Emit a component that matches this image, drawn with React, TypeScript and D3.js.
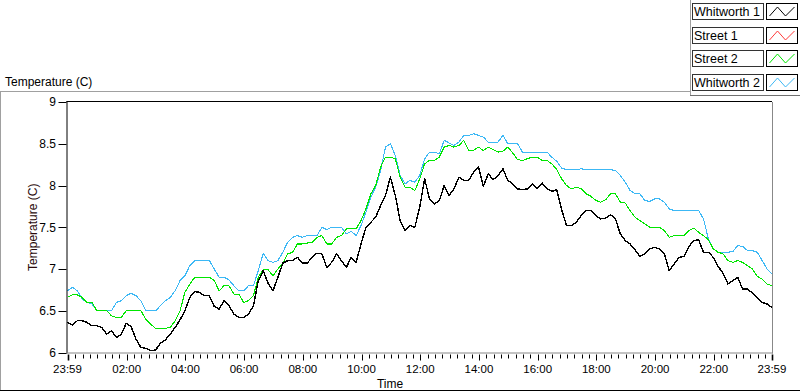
import React from "react";
import * as d3 from "d3";

// ---- data ----
// sample grid: minutes after the start (23:59 of the previous day), every 10 minutes
const sampleMinutes: number[] = d3.range(0, 1441, 10);

const seriesNames = ["Whitworth 1", "Street 1", "Street 2", "Whitworth 2"];
const seriesColors = ["#000000", "#ff3a3a", "#00e600", "#3cb8f5"];

const whitworth1: number[] = [
  6.36, 6.33, 6.38, 6.38, 6.36, 6.32, 6.32, 6.30, 6.22, 6.26, 6.18, 6.22,
  6.35, 6.31, 6.16, 6.06, 6.05, 6.02, 6.03, 6.11, 6.15, 6.22, 6.30, 6.39,
  6.50, 6.66, 6.73, 6.72, 6.68, 6.68, 6.55, 6.52, 6.62, 6.56, 6.46, 6.42,
  6.42, 6.46, 6.56, 6.86, 6.98, 6.83, 6.74, 6.90, 7.07, 7.10, 7.10, 7.14,
  7.07, 7.07, 7.14, 7.19, 7.18, 7.02, 7.08, 7.18, 7.10, 7.02, 7.14, 7.08,
  7.30, 7.50, 7.56, 7.62, 7.76, 7.88, 8.10, 7.88, 7.58, 7.46, 7.52, 7.50,
  7.74, 8.08, 7.84, 7.78, 7.82, 8.00, 7.88, 7.96, 8.10, 8.06, 8.06, 8.16,
  8.22, 7.99, 8.14, 8.07, 8.12, 8.20, 8.06, 8.02, 7.96, 7.95, 7.96, 8.02,
  7.96, 8.03, 7.96, 7.93, 7.95, 7.71, 7.52, 7.52, 7.56, 7.64, 7.70, 7.70,
  7.64, 7.60, 7.61, 7.65, 7.60, 7.42, 7.34, 7.30, 7.23, 7.15, 7.18, 7.24,
  7.26, 7.24, 7.18, 6.98, 7.06, 7.14, 7.15, 7.27, 7.34, 7.35, 7.20, 7.20,
  7.14, 7.03, 6.95, 6.82, 6.86, 6.90, 6.76, 6.76, 6.71, 6.66, 6.60, 6.58,
  6.54,
];

// Street 1 has no visible trace in the reference
const street1: number[] = [];

const street2: number[] = [
  6.66, 6.69, 6.69, 6.66, 6.60, 6.60, 6.50, 6.50, 6.50, 6.44, 6.42, 6.42,
  6.50, 6.50, 6.50, 6.50, 6.40, 6.34, 6.29, 6.29, 6.29, 6.30, 6.38, 6.50,
  6.72, 6.82, 6.90, 6.90, 6.90, 6.90, 6.86, 6.74, 6.80, 6.80, 6.70, 6.70,
  6.60, 6.62, 6.68, 6.90, 6.99, 6.99, 6.92, 7.00, 7.07, 7.18, 7.20, 7.30,
  7.30, 7.31, 7.32, 7.38, 7.40, 7.30, 7.30, 7.38, 7.40, 7.48, 7.49, 7.48,
  7.58, 7.72, 7.90, 8.00, 8.22, 8.34, 8.34, 8.32, 8.10, 7.98, 7.98, 7.94,
  8.08, 8.26, 8.30, 8.30, 8.34, 8.46, 8.48, 8.46, 8.48, 8.54, 8.42, 8.42,
  8.46, 8.42, 8.46, 8.43, 8.40, 8.41, 8.46, 8.39, 8.31, 8.30, 8.32, 8.34,
  8.34, 8.30, 8.30, 8.26, 8.19, 8.08, 8.00, 7.96, 7.98, 7.96, 7.90, 7.87,
  7.82, 7.80, 7.83, 7.90, 7.90, 7.80, 7.79, 7.70, 7.62, 7.58, 7.54, 7.50,
  7.50, 7.50, 7.46, 7.38, 7.40, 7.40, 7.40, 7.46, 7.49, 7.44, 7.40, 7.35,
  7.24, 7.20, 7.18, 7.10, 7.08, 7.10, 7.08, 7.04, 7.00, 6.91, 6.88, 6.82,
  6.80,
];

const whitworth2: number[] = [
  6.74, 6.78, 6.74, 6.64, 6.60, 6.58, 6.50, 6.50, 6.50, 6.50, 6.60, 6.62,
  6.68, 6.71, 6.68, 6.62, 6.50, 6.50, 6.50, 6.56, 6.62, 6.66, 6.74, 6.86,
  6.92, 7.04, 7.10, 7.10, 7.10, 7.10, 7.00, 6.90, 6.90, 6.87, 6.80, 6.74,
  6.74, 6.80, 6.80, 6.98, 7.19, 7.10, 7.08, 7.10, 7.20, 7.32, 7.38, 7.40,
  7.38, 7.40, 7.40, 7.40, 7.50, 7.47, 7.50, 7.50, 7.50, 7.42, 7.45, 7.40,
  7.52, 7.68, 7.86, 7.98, 8.18, 8.46, 8.50, 8.36, 8.12, 8.02, 8.06, 8.04,
  8.12, 8.32, 8.40, 8.40, 8.38, 8.54, 8.51, 8.48, 8.52, 8.60, 8.60, 8.62,
  8.60, 8.58, 8.52, 8.52, 8.52, 8.60, 8.50, 8.50, 8.50, 8.40, 8.40, 8.40,
  8.40, 8.40, 8.40, 8.34, 8.29, 8.21, 8.19, 8.19, 8.19, 8.20, 8.19, 8.19,
  8.19, 8.19, 8.19, 8.19, 8.18, 8.12, 8.04, 7.94, 7.90, 7.90, 7.82, 7.81,
  7.84, 7.84, 7.80, 7.72, 7.70, 7.70, 7.70, 7.70, 7.70, 7.70, 7.60, 7.36,
  7.24, 7.20, 7.20, 7.20, 7.21, 7.28, 7.27, 7.22, 7.22, 7.20, 7.10, 7.00,
  6.94,
];

const yTickValues = [6, 6.5, 7, 7.5, 8, 8.5, 9];
const xTickLabels = [
  "23:59", "02:00", "04:00", "06:00", "08:00", "10:00", "12:00",
  "14:00", "16:00", "18:00", "20:00", "22:00", "23:59",
];

const chartTitle = "Temperature (C)";
const yAxisTitle = "Temperature (C)";
const xAxisTitle = "Time";

// ---- layout ----
const W = 800;
const H = 392;
const plot = { left: 67.5, right: 772, top: 102, bottom: 352.5 };
const FONT = "'Liberation Sans', Arial, sans-serif";

export default function App() {
  const x = d3.scaleLinear().domain([0, 1440]).range([plot.left, plot.right]);
  const y = d3.scaleLinear().domain([6, 9]).range([plot.bottom, plot.top]);

  const line = d3
    .line<number>()
    .x((_, i) => x(sampleMinutes[i]))
    .y((v) => y(v))
    .curve(d3.curveLinear);

  const allSeries = [whitworth1, street1, street2, whitworth2];
  // draw order: blue underneath, then green, red, black on top
  const drawOrder = [3, 2, 1, 0];

  // tick positions: minutes from start (clock time + 1 minute)
  const labelMinute = (lab: string, i: number) => {
    if (i === 0) return 0;
    const [hh, mm] = lab.split(":").map(Number);
    return hh * 60 + mm + 1;
  };
  const majorMinutes = xTickLabels.map(labelMinute);
  const minorMinutes: number[] = [];
  for (let m = 16; m < 1440; m += 15) {
    if (!majorMinutes.includes(m)) minorMinutes.push(m);
  }

  const legendRowsTop = [3, 27, 50, 74];

  return (
    <div style={{ position: "absolute", left: 0, top: 0 }}>
      <svg width={W} height={H} style={{ display: "block", background: "#fff" }}>
        <rect x={0} y={0} width={W} height={H} fill="#ffffff" />

        {/* outer panel */}
        <line x1={0} x2={690} y1={91.5} y2={91.5} stroke="#a0a0a0" />
        <line x1={0.5} x2={0.5} y1={91.5} y2={391} stroke="#a0a0a0" />
        <line x1={0} x2={W} y1={390.5} y2={390.5} stroke="#000" />

        <text x={5} y={86} fontFamily={FONT} fontSize={12} fill="#000">
          {chartTitle}
        </text>

        {/* legend frame */}
        <line x1={690.5} x2={690.5} y1={0} y2={95.5} stroke="#a0a0a0" />
        <line x1={690} x2={W} y1={95.5} y2={95.5} stroke="#707070" />

        {seriesNames.map((name, i) => {
          const top = legendRowsTop[i];
          const bx = 766.5;
          const bw = 31;
          const bh = 16;
          const pts: [number, number][] = [
            [bx + 3, top + 13],
            [bx + 11, top + 4],
            [bx + 19, top + 13],
            [bx + 28, top + 4],
          ];
          return (
            <g key={name}>
              <rect x={692.5} y={top + 0.5} width={71} height={bh} fill="#fff" stroke="#333" />
              <text x={694} y={top + 13} fontFamily={FONT} fontSize={12.5} fill="#000">
                {name}
              </text>
              <rect x={bx} y={top + 0.5} width={bw} height={bh} fill="#fff" stroke="#000" />
              <path d={d3.line()(pts) || ""} fill="none" stroke={seriesColors[i]} strokeWidth={1} />
            </g>
          );
        })}

        {/* plot area */}
        <rect
          x={plot.left}
          y={plot.top}
          width={plot.right - plot.left}
          height={plot.bottom - plot.top}
          fill="#fff"
        />

        {/* series */}
        <g>
          {drawOrder.map((si) =>
            allSeries[si].length > 0 ? (
              <path
                key={seriesNames[si]}
                d={line(allSeries[si]) || ""}
                fill="none"
                stroke={seriesColors[si]}
                strokeWidth={si === 0 ? 1.4 : 1.1}
                strokeLinejoin="round"
                shapeRendering="crispEdges"
              />
            ) : null
          )}
        </g>

        {/* frame: top/left black, bottom/right grey */}
        <line x1={plot.left - 1} x2={plot.right} y1={plot.top - 0.5} y2={plot.top - 0.5} stroke="#000" />
        <line x1={plot.left - 0.5} x2={plot.left - 0.5} y1={plot.top - 1} y2={plot.bottom + 1} stroke="#000" />
        <line x1={plot.right + 0.5} x2={plot.right + 0.5} y1={plot.top} y2={plot.bottom + 1} stroke="#888" />
        <line x1={plot.left - 1} x2={plot.right + 1} y1={plot.bottom + 0.5} y2={plot.bottom + 0.5} stroke="#888" />

        {/* y axis ticks */}
        {yTickValues.map((v) => (
          <g key={v}>
            <line x1={58.5} x2={plot.left - 1} y1={Math.round(y(v)) + 0.5} y2={Math.round(y(v)) + 0.5} stroke="#000" />
            <text
              x={56}
              y={y(v)}
              dy="0.36em"
              textAnchor="end"
              fontFamily={FONT}
              fontSize={12}
              fill="#000"
            >
              {String(v)}
            </text>
          </g>
        ))}

        {/* x axis ticks */}
        {minorMinutes.map((m) => (
          <line
            key={"mn" + m}
            x1={Math.round(x(m)) + 0.5}
            x2={Math.round(x(m)) + 0.5}
            y1={plot.bottom + 2}
            y2={plot.bottom + 6}
            stroke="#000"
          />
        ))}
        {majorMinutes.map((m, i) => (
          <g key={"mj" + i}>
            <line
              x1={Math.round(x(m)) + 0.5}
              x2={Math.round(x(m)) + 0.5}
              y1={plot.bottom + 2}
              y2={plot.bottom + 8}
              stroke="#000"
              strokeWidth={i === 0 || i === majorMinutes.length - 1 ? 1.6 : 1}
            />
            <text
              x={x(m)}
              y={373}
              textAnchor="middle"
              fontFamily={FONT}
              fontSize={11.5}
              fill="#000"
            >
              {xTickLabels[i]}
            </text>
          </g>
        ))}

        {/* axis titles */}
        <text
          transform={`translate(37, ${(plot.top + plot.bottom) / 2}) rotate(-90)`}
          textAnchor="middle"
          fontFamily={FONT}
          fontSize={12}
          fill="#2a0a0a"
        >
          {yAxisTitle}
        </text>
        <text x={390} y={388} textAnchor="middle" fontFamily={FONT} fontSize={12} fill="#000">
          {xAxisTitle}
        </text>
      </svg>
    </div>
  );
}
